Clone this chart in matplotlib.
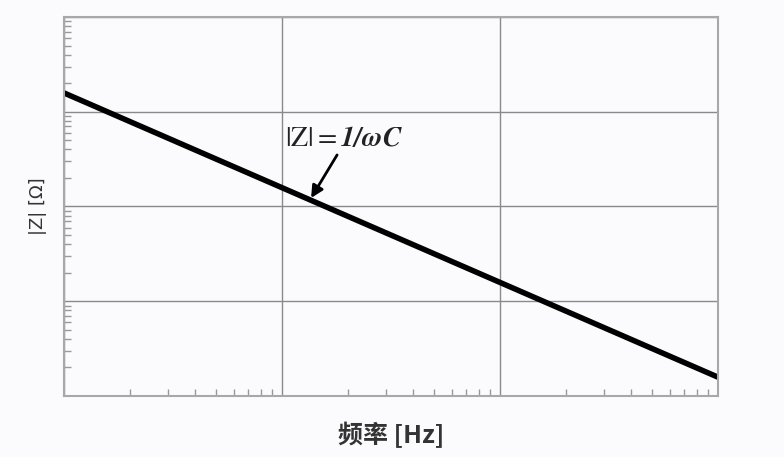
import matplotlib
matplotlib.use("Agg")
import matplotlib.pyplot as plt
from matplotlib.ticker import LogLocator, NullFormatter

plt.rcParams['font.family'] = ['Noto Sans CJK SC', 'DejaVu Sans']
plt.rcParams['mathtext.fontset'] = 'stix'

# impedance of a capacitor (log-log, no tick labels)
freq = [1, 1000]
z_mag = [1580, 1.58]
x_lim = [1, 1000]
y_lim = [1, 10000]
note_xy = (13.6, 123)
note_text_xy = (10.3, 530)
arrow_tail = (17.9, 350)

fig = plt.figure(figsize=(7.84, 4.57), dpi=100)
fig.patch.set_facecolor('#fbfbfd')
ax = fig.add_axes([0.0816, 0.1335, 0.8342, 0.8293])
ax.set_facecolor('#fbfbfd')

ax.plot(freq, z_mag, color='black', lw=4, solid_capstyle='butt')
ax.set_xscale('log')
ax.set_yscale('log')
ax.set_xlim(x_lim)
ax.set_ylim(y_lim)

ax.xaxis.set_major_locator(LogLocator(base=10, numticks=10))
ax.yaxis.set_major_locator(LogLocator(base=10, numticks=10))
ax.xaxis.set_minor_locator(LogLocator(base=10, subs=range(2, 10), numticks=20))
ax.yaxis.set_minor_locator(LogLocator(base=10, subs=range(2, 10), numticks=20))
for a in (ax.xaxis, ax.yaxis):
    a.set_major_formatter(NullFormatter())
    a.set_minor_formatter(NullFormatter())
ax.tick_params(which='major', length=0)
ax.tick_params(which='minor', direction='in', length=5, width=1, color='#999999',
               top=False, right=False)
ax.grid(which='major', color='#8a8a8a', lw=1)

for s in ax.spines.values():
    s.set_color('#a8a8a8')
    s.set_linewidth(1.5)

ax.annotate(r'$\mathrm{|Z|{=}}\mathbfit{1/\omega C}$', xy=note_xy, xytext=note_text_xy,
            fontsize=20, color='#222222', va='center', ha='left')
ax.annotate('', xy=note_xy, xytext=arrow_tail,
            arrowprops=dict(arrowstyle='-|>', color='black', lw=2, mutation_scale=18,
                            shrinkA=0, shrinkB=0))

ax.set_xlabel('频率 [Hz]', fontsize=18, fontweight='bold', color='#333333', labelpad=15)
ax.set_ylabel('|Z| [Ω]', fontsize=13, color='#333333', labelpad=9,
              family=['DejaVu Sans'])

fig.savefig('out.png', dpi=100, facecolor=fig.get_facecolor())
